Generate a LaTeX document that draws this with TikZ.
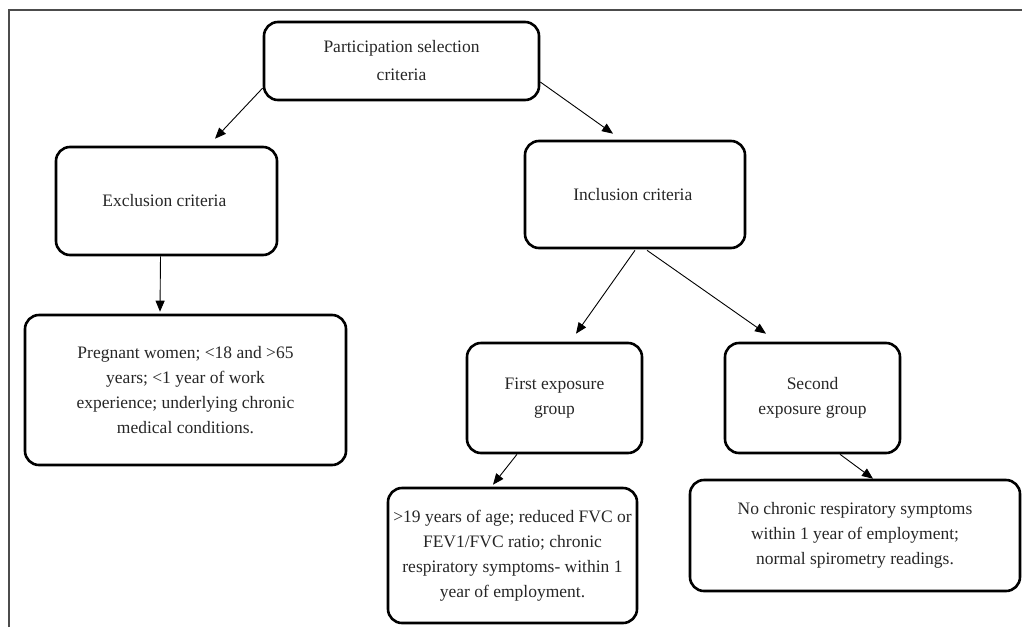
\documentclass[tikz,border=0pt]{standalone}
\usepackage{fontspec}
\setmainfont{Liberation Serif}
\usepackage{tikz}
\usetikzlibrary{arrows.meta, positioning, calc}
\tikzset{
  critbox/.style = {rectangle, rounded corners=14pt,
                    draw=black, line width=2.6pt,
                    align=center, inner sep=0pt,
                    font=\fontsize{17.5}{25}\selectfont, text=black!85},
  arr/.style     = {line width=0.9pt, -{Triangle[length=11pt,width=9pt]}}
}

\begin{document}
\begin{tikzpicture}[x=1pt, y=-1pt]

\useasboundingbox (0,0) rectangle (1022,627);

% Outer frame (only top and left edges show)
\draw[line width=1.8pt, black!70] (9,627) -- (9,10) -- (1022,10);

% Top level
\node[critbox, minimum width=275pt, minimum height=78pt,
      font=\fontsize{17.5}{28}\selectfont
] at (401.5, 61) (part) {
    Participation selection\\criteria
};

% Exclusion branch
\node[critbox, minimum width=221pt, minimum height=108pt
] at (166.5, 201) (excl) {
    Exclusion criteria
};

\node[critbox, minimum width=321pt, minimum height=150pt
] at (185.5, 390) (excldet) {
    Pregnant women; <18 and >65\\
    years; <1 year of work\\
    experience; underlying chronic\\
    medical conditions.
};

% Inclusion branch
\node[critbox, minimum width=220pt, minimum height=107pt
] at (635, 194.5) (incl) {
    Inclusion criteria
};

\node[critbox, minimum width=175pt, minimum height=110pt
] at (554.5, 398) (first) {
    First exposure\\group
};

\node[critbox, minimum width=175pt, minimum height=110pt
] at (812.5, 398) (second) {
    Second\\exposure group
};

\node[critbox, minimum width=249pt, minimum height=135pt
] at (512.5, 555.5) (firstdet) {
    >19 years of age; reduced FVC or\\
    FEV1/FVC ratio; chronic\\
    respiratory symptoms- within 1\\
    year of employment.
};

\node[critbox, minimum width=330pt, minimum height=111pt
] at (855, 535.5) (seconddet) {
    No chronic respiratory symptoms\\
    within 1 year of employment;\\
    normal spirometry readings.
};

% Connectors
\draw[arr] ($(part.west) + (0, 27)$) -- ($(excl.north) + (48.5, -7)$);
\draw[arr] ($(part.east) + (0, 21)$) -- ($(incl.north) + (-22, -6)$);
\draw[arr] ($(excl.south) + (-6, 0)$) -- ($(excldet.north) + (-25.5, -2)$);
\draw[arr] ($(incl.south) + (0, 1)$) -- ($(first.north) + (21.5, -8)$);
\draw[arr] ($(incl.south) + (12, 1)$) -- ($(second.north) + (-46.5, -8)$);
\draw[arr] ($(first.south) + (-37.5, 0)$) -- ($(firstdet.north) + (-19.5, -2)$);
\draw[arr] ($(second.south) + (27.5, 0)$) -- ($(seconddet.north) + (18, 0)$);

\end{tikzpicture}
\end{document}
